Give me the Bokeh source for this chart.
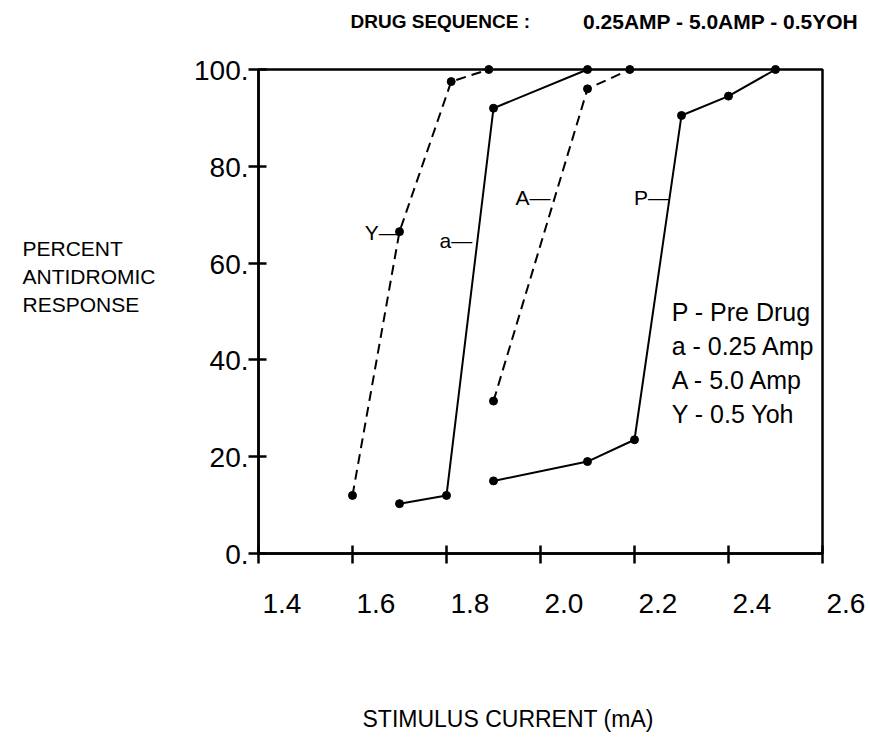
from bokeh.plotting import figure
from bokeh.models import Label, FixedTicker, BoxAnnotation
from bokeh.embed import file_html
from bokeh.resources import INLINE

# ---- data ----
x_ticks = [1.4, 1.6, 1.8, 2.0, 2.2, 2.4, 2.6]
x_tick_labels = ["1.4", "1.6", "1.8", "2.0", "2.2", "2.4", "2.6"]
y_ticks = [0, 20, 40, 60, 80, 100]
y_tick_labels = ["0.", "20.", "40.", "60.", "80.", "100."]

pre_x = [1.9, 2.1, 2.2, 2.3, 2.4, 2.5]
pre_y = [15, 19, 23.5, 90.5, 94.5, 100]
a_x = [1.7, 1.8, 1.9, 2.1]
a_y = [10.3, 12, 92, 100]
A_x = [1.9, 2.1, 2.19]
A_y = [31.5, 96, 100]
Y_x = [1.6, 1.7, 1.81, 1.89]
Y_y = [12, 66.5, 97.5, 100]

legend_lines = ["P - Pre Drug", "a - 0.25 Amp", "A - 5.0 Amp", "Y - 0.5 Yoh"]
curve_tags = ["Y\u2014", "a\u2014", "A\u2014", "P\u2014"]
tag_x = [1.626, 1.785, 1.947, 2.199]
tag_y = [66.3, 64.6, 73.6, 73.6]
title_left = "DRUG SEQUENCE :"
title_right = "0.25AMP - 5.0AMP - 0.5YOH"
y_title_lines = ["PERCENT", "ANTIDROMIC", "RESPONSE"]
x_title = "STIMULUS CURRENT (mA)"

FONT = "Liberation Sans"

# ---- layout (pixels) ----
W, H = 868, 735
BOX_L, BOX_R, BOX_T, BOX_B = 258, 822, 69, 553

x0, x1 = x_ticks[0], x_ticks[-1]
y0, y1 = y_ticks[0], y_ticks[-1]
sx = (BOX_R - BOX_L) / (x1 - x0)
sy = (BOX_B - BOX_T) / (y1 - y0)
xr = (x0 - BOX_L / sx, x1 + (W - BOX_R) / sx)
yr = (y0 - (H - BOX_B) / sy, y1 + BOX_T / sy)

p = figure(width=W, height=H, x_range=xr, y_range=yr,
           output_backend="svg", toolbar_location=None,
           background_fill_color="white", border_fill_color="white")
p.min_border = 0
p.min_border_left = 0
p.min_border_right = 0
p.min_border_top = 0
p.min_border_bottom = 0
p.grid.visible = False
p.outline_line_color = None

p.xaxis.fixed_location = y0
p.yaxis.fixed_location = x0
p.xaxis.bounds = (x0, x1)
p.yaxis.bounds = (y0, y1)
for ax, ticks in ((p.xaxis, x_ticks), (p.yaxis, y_ticks)):
    ax.ticker = FixedTicker(ticks=ticks)
    ax.axis_line_width = 2.5
    ax.axis_line_color = "black"
    ax.major_tick_line_width = 2.5
    ax.major_tick_line_color = "black"
    ax.major_tick_in = 8
    ax.major_tick_out = 10
    ax.minor_tick_line_color = None
    ax.major_label_overrides = {t: "" for t in ticks}

# plot box (top and right sides)
p.add_layout(BoxAnnotation(left=x0, right=x1, bottom=y0, top=y1,
                           fill_alpha=0, line_color="black", line_alpha=1.0,
                           line_width=2.5))

# tick labels
for v, t in zip(x_ticks, x_tick_labels):
    p.add_layout(Label(x=v, y=y0, text=t, x_offset=4, y_offset=-50,
                       text_align="left", text_baseline="alphabetic",
                       text_font=FONT, text_font_size="28px", text_color="black"))
for v, t in zip(y_ticks, y_tick_labels):
    p.add_layout(Label(x=x0, y=v, text=t, x_offset=-10, y_offset=-1,
                       text_align="right", text_baseline="alphabetic",
                       text_font=FONT, text_font_size="28px", text_color="black"))

# series
p.line(pre_x, pre_y, line_color="black", line_width=2)
p.scatter(pre_x, pre_y, size=8, color="black")
p.line(a_x, a_y, line_color="black", line_width=2)
p.scatter(a_x, a_y, size=8, color="black")
p.line(A_x, A_y, line_color="black", line_width=2, line_dash="10 6")
p.scatter(A_x, A_y, size=8, color="black")
p.line(Y_x, Y_y, line_color="black", line_width=2, line_dash="10 6")
p.scatter(Y_x, Y_y, size=8, color="black")

# curve tags
for t, xx, yy in zip(curve_tags, tag_x, tag_y):
    p.add_layout(Label(x=xx, y=yy, text=t, text_align="left", text_baseline="middle",
                       text_font=FONT, text_font_size="21px", text_color="black"))

# legend text block
for i, t in enumerate(legend_lines):
    p.add_layout(Label(x=2.279, y=50, text=t, y_offset=-34 * i,
                       text_align="left", text_baseline="middle",
                       text_font=FONT, text_font_size="25px", text_color="black"))

# title
p.add_layout(Label(x=x0, y=y1, text=title_left, x_offset=92, y_offset=48,
                   text_align="left", text_baseline="middle", text_font=FONT,
                   text_font_style="bold", text_font_size="19px", text_color="black"))
p.add_layout(Label(x=x1, y=y1, text=title_right, x_offset=36, y_offset=48,
                   text_align="right", text_baseline="middle", text_font=FONT,
                   text_font_style="bold", text_font_size="21px", text_color="black"))

# y-axis title (three lines)
for i, t in enumerate(y_title_lines):
    p.add_layout(Label(x=x0, y=y1, text=t, x_offset=-236, y_offset=-179 - 28 * i,
                       text_align="left", text_baseline="middle", text_font=FONT,
                       text_font_size="21px", text_color="black"))

# x-axis title
p.add_layout(Label(x=x0, y=y0, text=x_title, x_offset=104, y_offset=-165,
                   text_align="left", text_baseline="middle", text_font=FONT,
                   text_font_size="23px", text_color="black"))

open("out.html", "w").write(file_html(p, INLINE))
